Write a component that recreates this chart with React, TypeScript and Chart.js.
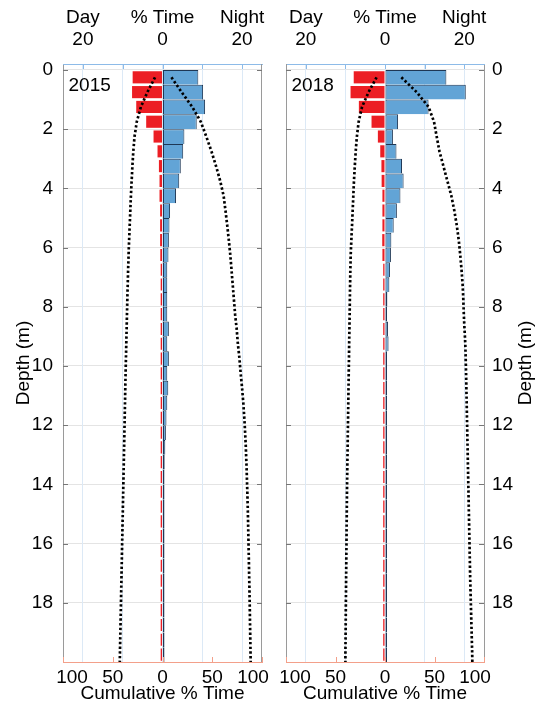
import React, { useEffect, useRef } from "react";
import { Chart, registerables } from "chart.js";

Chart.register(...registerables);

const FONT = "'Liberation Sans', Arial, Helvetica, sans-serif";

// depth bin mid-points (m)
const depthBins = [
  0.25, 0.75, 1.25, 1.75, 2.25, 2.75, 3.25, 3.75, 4.25, 4.75,
  5.25, 5.75, 6.25, 6.75, 7.25, 7.75, 8.25, 8.75, 9.25, 9.75,
  10.25, 10.75, 11.25, 11.75, 12.25, 12.75, 13.25, 13.75, 14.25, 14.75,
  15.25, 15.75, 16.25, 16.75, 17.25, 17.75, 18.25, 18.75, 19.25, 19.75,
];
// depths of the cumulative curves
const cumDepths = [
  0.25, 0.75, 1.25, 1.75, 2.25, 2.75, 3.25, 3.75, 4.25, 4.75,
  5.25, 5.75, 6.25, 6.75, 7.25, 7.75, 8.25, 8.75, 9.25, 9.75,
  10.25, 10.75, 11.25, 11.75, 12.25, 12.75, 13.25, 13.75, 14.25, 14.75,
  15.25, 15.75, 16.25, 16.75, 17.25, 17.75, 18.25, 18.75, 19.25, 19.75, 20,
];

// 2015 % time per bin
const night2015 = [
  9.0, 10.2, 10.7, 8.6, 5.5, 5.2, 4.6, 4.2, 3.4, 1.9,
  1.75, 1.6, 1.5, 1.2, 1.2, 1.2, 1.2, 1.6, 1.2, 1.6,
  1.2, 1.45, 1.2, 1.0, 0.85, 0.7, 0.55, 0.5, 0.45, 0.4,
  0.35, 0.3, 0.3, 0.3, 0.3, 0.3, 0.25, 0.25, 0.25, 0.25,
];
const day2015 = [
  -7.5, -7.65, -6.6, -4.1, -2.25, -1.25, -0.9, -0.75, -0.75, -0.6,
  -0.6, -0.6, -0.55, -0.45, -0.4, -0.4, -0.4, -0.4, -0.4, -0.4,
  -0.4, -0.4, -0.4, -0.4, -0.4, -0.4, -0.4, -0.4, -0.4, -0.35,
  -0.35, -0.35, -0.35, -0.35, -0.35, -0.35, -0.35, -0.35, -0.35, -0.35,
];
// 2015 cumulative % time
const cumDay2015 = [
  -7.5, -15.15, -21.75, -25.85, -28.1, -29.35, -30.25, -31.0, -31.75, -32.35,
  -32.95, -33.55, -34.1, -34.55, -34.95, -35.35, -35.7, -36.05, -36.4, -36.75,
  -37.1, -37.4, -37.7, -38.0, -38.3, -38.6, -38.9, -39.2, -39.5, -39.8,
  -40.1, -40.4, -40.7, -41.0, -41.3, -41.6, -41.9, -42.2, -42.5, -42.8, -42.9,
];
const cumNight2015 = [
  9.0, 19.2, 29.9, 38.5, 44.0, 49.2, 53.8, 58.0, 61.4, 63.3,
  65.05, 66.65, 68.15, 69.35, 70.55, 71.75, 72.95, 74.55, 75.75, 77.35,
  78.55, 80.0, 81.2, 82.2, 83.05, 83.75, 84.3, 84.8, 85.25, 85.65,
  86.0, 86.3, 86.6, 86.9, 87.2, 87.5, 87.75, 88.0, 88.25, 88.5, 88.6,
];

// 2018 % time per bin
const night2018 = [
  15.5, 20.4, 11.0, 3.3, 2.0, 2.9, 4.3, 4.7, 3.9, 3.0,
  2.2, 1.6, 1.5, 1.25, 1.1, 0.6, 0.45, 0.75, 0.9, 0.35,
  0.35, 0.3, 0.3, 0.3, 0.3, 0.3, 0.3, 0.3, 0.3, 0.3,
  0.3, 0.3, 0.3, 0.3, 0.3, 0.3, 0.3, 0.3, 0.3, 0.3,
];
const day2018 = [
  -7.9, -8.7, -6.6, -3.4, -1.8, -1.2, -0.9, -0.85, -0.65, -0.65,
  -0.65, -0.7, -0.65, -0.35, -0.3, -0.3, -0.3, -0.3, -0.3, -0.3,
  -0.3, -0.3, -0.3, -0.3, -0.3, -0.3, -0.3, -0.3, -0.3, -0.3,
  -0.3, -0.3, -0.3, -0.3, -0.3, -0.3, -0.3, -0.3, -0.3, -0.3,
];
// 2018 cumulative % time
const cumDay2018 = [
  -8.5, -16.6, -23.2, -26.6, -28.4, -29.6, -30.5, -31.35, -32.0, -32.65,
  -33.3, -34.0, -34.65, -35.0, -35.25, -35.5, -35.7, -35.95, -36.2, -36.4,
  -36.65, -36.85, -37.1, -37.3, -37.55, -37.75, -38.0, -38.2, -38.4, -38.55,
  -38.7, -38.85, -39.0, -39.15, -39.3, -39.45, -39.6, -39.7, -39.85, -40.0, -40.0,
];
const cumNight2018 = [
  16.5, 32.0, 44.0, 49.5, 52.2, 55.0, 59.0, 63.0, 67.0, 70.0,
  72.5, 74.5, 76.0, 77.3, 78.4, 79.1, 79.6, 80.3, 81.1, 81.5,
  81.9, 82.2, 82.5, 82.8, 83.1, 83.4, 83.7, 84.0, 84.3, 84.6,
  84.9, 85.2, 85.5, 85.8, 86.1, 86.5, 86.9, 87.3, 87.7, 88.1, 88.2,
];

// axes
const depthTicks = [0, 2, 4, 6, 8, 10, 12, 14, 16, 18];
const topTicks = [-20, -10, 0, 10, 20];
const topTickLabels: (string | string[])[] = [["Day", "20"], "", ["% Time", "0"], "", ["Night", "20"]];
const bottomTicks = [-100, -50, 0, 50, 100];
const bottomTickLabels = ["100", "50", "0", "50", "100"];

const RED = "rgb(236,30,36)";
const BLUE = "rgb(98,164,214)";
const NAVY = "rgb(30,55,85)";
const AXIS_GRAY = "#9a9a9a";
const TOP_BLUE = "#8dbbe8";
const BOTTOM_SALMON = "#f3a08a";

type Panel = {
  year: string;
  isLeft: boolean;
  night: number[];
  day: number[];
  cumNight: number[];
  cumDay: number[];
};

function decorPlugin(p: Panel) {
  return {
    id: "decor" + p.year,
    afterDraw(chart: any) {
      const { ctx, chartArea } = chart;
      const y = chart.scales.y;
      const xt = chart.scales.xt;
      const xb = chart.scales.xb;
      ctx.save();
      // missing side border
      ctx.strokeStyle = AXIS_GRAY;
      ctx.lineWidth = 1;
      ctx.beginPath();
      const bx = p.isLeft ? chartArea.right - 0.5 : chartArea.left + 0.5;
      ctx.moveTo(bx, chartArea.top);
      ctx.lineTo(bx, chartArea.bottom);
      ctx.stroke();
      // inward depth ticks
      ctx.strokeStyle = "#777";
      ctx.beginPath();
      depthTicks.forEach((d) => {
        const py = Math.round(y.getPixelForValue(d)) + 0.5;
        ctx.moveTo(chartArea.left, py);
        ctx.lineTo(chartArea.left + 5, py);
        ctx.moveTo(chartArea.right - 5, py);
        ctx.lineTo(chartArea.right, py);
      });
      ctx.stroke();
      // top ticks
      ctx.strokeStyle = TOP_BLUE;
      ctx.beginPath();
      topTicks.forEach((v) => {
        const px = Math.round(xt.getPixelForValue(v)) + 0.5;
        ctx.moveTo(px, chartArea.top);
        ctx.lineTo(px, chartArea.top + 5);
      });
      ctx.stroke();
      // bottom ticks
      ctx.strokeStyle = BOTTOM_SALMON;
      ctx.beginPath();
      bottomTicks.forEach((v) => {
        const px = Math.round(xb.getPixelForValue(v)) + 0.5;
        ctx.moveTo(px, chartArea.bottom);
        ctx.lineTo(px, chartArea.bottom - 5);
      });
      ctx.stroke();
      // bottom tick labels
      ctx.fillStyle = "#000";
      ctx.font = `19px ${FONT}`;
      ctx.textAlign = "center";
      ctx.textBaseline = "middle";
      bottomTicks.forEach((v, i) => {
        let px = xb.getPixelForValue(v);
        if (i === 0) px += 9;
        if (i === bottomTicks.length - 1) px -= 9;
        ctx.fillText(bottomTickLabels[i], px, chartArea.bottom + 16);
      });
      // year label
      ctx.textAlign = "left";
      ctx.fillText(p.year, chartArea.left + 5.5, chartArea.top + 22);
      // right-side axis title
      if (!p.isLeft) {
        ctx.translate(chart.width - 11, (chartArea.top + chartArea.bottom) / 2);
        ctx.rotate(-Math.PI / 2);
        ctx.textAlign = "center";
        ctx.fillText("Depth (m)", 0, 0);
      }
      ctx.restore();
    },
  };
}

function zeroPad(s: any) {
  s.paddingLeft = 0;
  s.paddingRight = 0;
  s.paddingTop = 0;
  s.paddingBottom = 0;
}

function makeConfig(p: Panel): any {
  const font = { family: FONT, size: 19 };
  return {
    type: "bar",
    data: {
      datasets: [
        {
          type: "line",
          label: "Day cumulative",
          data: cumDepths.map((d, i) => ({ x: p.cumDay[i], y: d })),
          xAxisID: "xb",
          yAxisID: "y",
          borderColor: "#000",
          borderWidth: 2.7,
          borderDash: [2.4, 2.3],
          pointRadius: 0,
          fill: false,
          tension: 0,
          order: 0,
        },
        {
          type: "line",
          label: "Night cumulative",
          data: cumDepths.map((d, i) => ({ x: p.cumNight[i], y: d })),
          xAxisID: "xb",
          yAxisID: "y",
          borderColor: "#000",
          borderWidth: 2.7,
          borderDash: [2.4, 2.3],
          pointRadius: 0,
          fill: false,
          tension: 0,
          order: 0,
        },
        {
          type: "bar",
          label: "Night",
          data: depthBins.map((d, i) => ({ x: p.night[i], y: d })),
          xAxisID: "xt",
          yAxisID: "y",
          backgroundColor: BLUE,
          borderColor: NAVY,
          borderWidth: { top: 1, bottom: 0, left: 1, right: 1 },
          borderSkipped: false,
          inflateAmount: 0,
          minBarLength: 2,
          barPercentage: 1,
          categoryPercentage: 1,
          grouped: false,
          order: 1,
        },
        {
          type: "bar",
          label: "Day",
          data: depthBins.map((d, i) => ({ x: p.day[i], y: d })),
          xAxisID: "xt",
          yAxisID: "y",
          backgroundColor: RED,
          borderWidth: 0,
          inflateAmount: 0,
          minBarLength: 1.8,
          barPercentage: 0.82,
          categoryPercentage: 1,
          grouped: false,
          order: 2,
        },
      ],
    },
    options: {
      indexAxis: "y",
      animation: false,
      responsive: false,
      maintainAspectRatio: false,
      layout: { padding: { left: p.isLeft ? 0 : 16, right: p.isLeft ? 8 : 0, top: 0, bottom: 0 } },
      plugins: { legend: { display: false }, tooltip: { enabled: false } },
      scales: {
        y: {
          type: "linear",
          position: p.isLeft ? "left" : "right",
          reverse: true,
          offset: false,
          min: -0.2,
          max: 20,
          afterBuildTicks: (s: any) => {
            s.ticks = depthTicks.map((v) => ({ value: v }));
          },
          afterFit: (s: any) => {
            s.width = p.isLeft ? 63 : 53;
            zeroPad(s);
          },
          grid: { color: "#e4e4e4", drawTicks: false, lineWidth: 1, offset: false },
          border: { color: AXIS_GRAY, width: 1 },
          ticks: { font, color: "#000", padding: p.isLeft ? 10 : 8, autoSkip: false },
          title: {
            display: p.isLeft,
            text: "Depth (m)",
            font,
            color: "#000",
            padding: { top: 12, bottom: 0 },
          },
        },
        xt: {
          type: "linear",
          position: "top",
          min: -25,
          max: 25,
          afterBuildTicks: (s: any) => {
            s.ticks = topTicks.map((v) => ({ value: v }));
          },
          afterFit: (s: any) => {
            s.height = 64;
            zeroPad(s);
          },
          grid: { color: "#dce9f6", drawTicks: false, lineWidth: 1 },
          border: { color: TOP_BLUE, width: 1 },
          ticks: {
            font: { family: FONT, size: 19, lineHeight: 1.16 },
            color: "#000",
            padding: 13,
            autoSkip: false,
            maxRotation: 0,
            callback: (v: number) => {
              const i = topTicks.indexOf(v);
              return i >= 0 ? topTickLabels[i] : "";
            },
          },
        },
        xb: {
          type: "linear",
          position: "bottom",
          min: -100,
          max: 100,
          afterBuildTicks: (s: any) => {
            s.ticks = bottomTicks.map((v) => ({ value: v }));
          },
          afterFit: (s: any) => {
            s.height = 46;
            zeroPad(s);
          },
          grid: { display: false },
          border: { color: BOTTOM_SALMON, width: 1 },
          ticks: { display: false },
          title: {
            display: true,
            text: "Cumulative % Time",
            font,
            color: "#000",
            padding: { top: 0, bottom: 3 },
          },
        },
      },
    },
    plugins: [decorPlugin(p)],
  };
}

function PanelChart({ panel, left, width }: { panel: Panel; left: number; width: number }) {
  const ref = useRef<HTMLCanvasElement | null>(null);
  useEffect(() => {
    if (!ref.current) return;
    const chart = new Chart(ref.current, makeConfig(panel));
    return () => chart.destroy();
  }, [panel]);
  return (
    <canvas
      ref={ref}
      width={width}
      height={708}
      style={{ position: "absolute", left, top: 0, width, height: 708, display: "block" }}
    />
  );
}

const panel2015: Panel = {
  year: "2015",
  isLeft: true,
  night: night2015,
  day: day2015,
  cumNight: cumNight2015,
  cumDay: cumDay2015,
};
const panel2018: Panel = {
  year: "2018",
  isLeft: false,
  night: night2018,
  day: day2018,
  cumNight: cumNight2018,
  cumDay: cumDay2018,
};

export default function App() {
  return (
    <div
      style={{
        position: "fixed",
        left: 0,
        top: 0,
        width: 537,
        height: 708,
        background: "#fff",
        overflow: "hidden",
      }}
    >
      <PanelChart panel={panel2015} left={0} width={270} />
      <PanelChart panel={panel2018} left={270} width={267} />
    </div>
  );
}
